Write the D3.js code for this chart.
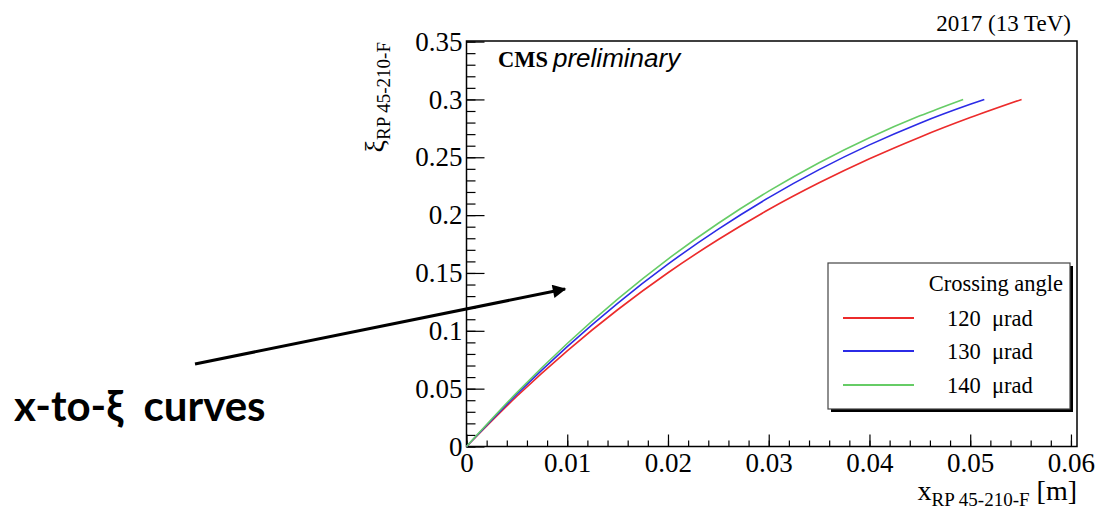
<!DOCTYPE html>
<html>
<head>
<meta charset="utf-8">
<script src="https://cdn.jsdelivr.net/npm/d3@7"></script>
<style>
  body { margin: 0; background: #fff; }
  svg { display: block; }
</style>
</head>
<body>
<div id="chart"></div>
<script>
// crossing angles and their curves (x in m, xi)
const angles = [120, 130, 140];
const colors = ["#ec2b2b", "#2b2be6", "#66cc66"];

const x120 = [0, 0.005, 0.01, 0.015, 0.02, 0.025, 0.03, 0.035, 0.04, 0.045, 0.05, 0.0551];
const xi120 = [0, 0.0434, 0.0827, 0.1182, 0.1502, 0.1789, 0.2048, 0.2279, 0.2487, 0.2674, 0.2843, 0.300];

const x130 = [0, 0.005, 0.01, 0.015, 0.02, 0.025, 0.03, 0.035, 0.04, 0.045, 0.05, 0.0514];
const xi130 = [0, 0.0452, 0.0864, 0.1238, 0.1576, 0.1879, 0.2151, 0.2393, 0.2607, 0.2795, 0.2958, 0.300];

const x140 = [0, 0.005, 0.01, 0.015, 0.02, 0.025, 0.03, 0.035, 0.04, 0.045, 0.0493];
const xi140 = [0, 0.0466, 0.0890, 0.1274, 0.1620, 0.1930, 0.2207, 0.2453, 0.2669, 0.2858, 0.300];

const xTicks = [0, 0.01, 0.02, 0.03, 0.04, 0.05, 0.06];
const xTickLabels = ["0", "0.01", "0.02", "0.03", "0.04", "0.05", "0.06"];
const yTicks = [0, 0.05, 0.1, 0.15, 0.2, 0.25, 0.3, 0.35];
const yTickLabels = ["0", "0.05", "0.1", "0.15", "0.2", "0.25", "0.3", "0.35"];

const series = [
    { angle: angles[0], color: colors[0], xs: x120, ys: xi120 },
    { angle: angles[1], color: colors[1], xs: x130, ys: xi130 },
    { angle: angles[2], color: colors[2], xs: x140, ys: xi140 }
];

const width = 1099;
const height = 513;
const serif = "'Liberation Serif', 'Times New Roman', serif";

const svg = d3.select('#chart')
    .append('svg')
    .attr('width', width)
    .attr('height', height);

// frame of the pad
const frame = { left: 466.5, right: 1077, top: 41, bottom: 446.5 };

const x = d3.scaleLinear()
    .domain([0, 0.0606])
    .range([frame.left, frame.right]);

const y = d3.scaleLinear()
    .domain([0, 0.3505])
    .range([frame.bottom, frame.top]);

// minor ticks first, inward like ROOT
const xMinor = d3.range(0, 31).map(i => i * 0.002);
const yMinor = d3.range(0, 36).map(i => i * 0.01);

const xMinorAxis = svg.append('g')
    .attr('transform', `translate(0, ${ frame.bottom })`)
    .call(d3.axisBottom(x).tickValues(xMinor).tickSize(-6).tickFormat(''));

const yMinorAxis = svg.append('g')
    .attr('transform', `translate(${ frame.left }, 0)`)
    .call(d3.axisLeft(y).tickValues(yMinor).tickSize(-9).tickFormat(''));

const xAxisGroup = svg.append('g')
    .attr('transform', `translate(0, ${ frame.bottom })`)
    .call(d3.axisBottom(x)
        .tickValues(xTicks)
        .tickSize(-12)
        .tickPadding(6)
        .tickFormat((d, i) => xTickLabels[i]));

const yAxisGroup = svg.append('g')
    .attr('transform', `translate(${ frame.left }, 0)`)
    .call(d3.axisLeft(y)
        .tickValues(yTicks)
        .tickSize(-18)
        .tickPadding(4)
        .tickFormat((d, i) => yTickLabels[i]));

[xMinorAxis, yMinorAxis, xAxisGroup, yAxisGroup].forEach(g => {
    g.select('path.domain').remove();
    g.selectAll('line').attr('stroke', '#000').attr('stroke-width', 1.2);
});

[xAxisGroup, yAxisGroup].forEach(g => {
    g.selectAll('text')
        .attr('fill', '#000')
        .style('font-family', serif)
        .style('font-size', '27px');
});

// frame box
svg.append('rect')
    .attr('x', frame.left)
    .attr('y', frame.top)
    .attr('width', frame.right - frame.left)
    .attr('height', frame.bottom - frame.top)
    .attr('fill', 'none')
    .attr('stroke', '#000')
    .attr('stroke-width', 1.5);

// curves
const line = d3.line()
    .x(d => x(d[0]))
    .y(d => y(d[1]))
    .curve(d3.curveMonotoneX);

svg.selectAll('path.curve')
    .data(series)
    .enter()
    .append('path')
    .attr('class', 'curve')
    .attr('d', s => line(s.xs.map((v, i) => [v, s.ys[i]])))
    .attr('fill', 'none')
    .attr('stroke', s => s.color)
    .attr('stroke-width', 1.6);

// titles
svg.append('text')
    .attr('x', 1071)
    .attr('y', 31)
    .attr('text-anchor', 'end')
    .style('font-family', serif)
    .style('font-size', '23px')
    .text('2017 (13 TeV)');

svg.append('text')
    .attr('x', 498)
    .attr('y', 67)
    .style('font-family', serif)
    .style('font-weight', 'bold')
    .style('font-size', '22.5px')
    .text('CMS');

svg.append('text')
    .attr('x', 553)
    .attr('y', 67)
    .style('font-family', "'Liberation Sans', Arial, sans-serif")
    .style('font-style', 'italic')
    .style('font-size', '26px')
    .text('preliminary');

// x axis title
const xTitle = svg.append('text')
    .attr('x', 1077)
    .attr('y', 500)
    .attr('text-anchor', 'end')
    .style('font-family', serif)
    .style('font-size', '28px');
xTitle.append('tspan').text('x');
xTitle.append('tspan').attr('dy', 6).style('font-size', '19px').text('RP 45-210-F');
xTitle.append('tspan').attr('dy', -6).text(' [m]');

// y axis title
const yTitle = svg.append('text')
    .attr('transform', 'translate(384, 42) rotate(-90)')
    .attr('text-anchor', 'end')
    .style('font-family', serif)
    .style('font-size', '28px');
yTitle.append('tspan').text('ξ');
yTitle.append('tspan').attr('dy', 6).style('font-size', '19px').text('RP 45-210-F');

// legend
const legend = { x: 828, y: 263, w: 242, h: 146 };

svg.append('rect')
    .attr('x', legend.x + 3)
    .attr('y', legend.y + 3)
    .attr('width', legend.w)
    .attr('height', legend.h)
    .attr('fill', '#000');

svg.append('rect')
    .attr('x', legend.x)
    .attr('y', legend.y)
    .attr('width', legend.w)
    .attr('height', legend.h)
    .attr('fill', '#fff')
    .attr('stroke', '#444')
    .attr('stroke-width', 1.2);

svg.append('text')
    .attr('x', 1063)
    .attr('y', 291)
    .attr('text-anchor', 'end')
    .style('font-family', serif)
    .style('font-size', '22.5px')
    .text('Crossing angle');

const legendRows = [318, 351, 385];
const items = svg.selectAll('g.item')
    .data(series)
    .enter()
    .append('g')
    .attr('class', 'item')
    .attr('transform', (d, i) => `translate(0, ${ legendRows[i] })`);

items.append('line')
    .attr('x1', 843)
    .attr('x2', 914)
    .attr('stroke', d => d.color)
    .attr('stroke-width', 2);

items.append('text')
    .attr('x', 947)
    .attr('y', 8)
    .style('font-family', serif)
    .style('font-size', '22.5px')
    .style('white-space', 'pre')
    .text(d => d.angle + '  μrad');

// annotation with arrow
const defs = svg.append('defs');
defs.append('marker')
    .attr('id', 'head')
    .attr('viewBox', '0 0 10 10')
    .attr('refX', 9)
    .attr('refY', 5)
    .attr('markerWidth', 6)
    .attr('markerHeight', 4.5)
    .attr('markerUnits', 'strokeWidth')
    .attr('orient', 'auto')
    .append('path')
    .attr('d', 'M0,0 L10,5 L0,10 Z')
    .attr('fill', '#000');

svg.append('line')
    .attr('x1', 195)
    .attr('y1', 364)
    .attr('x2', 565)
    .attr('y2', 289)
    .attr('stroke', '#000')
    .attr('stroke-width', 3)
    .attr('marker-end', 'url(#head)');

svg.append('text')
    .attr('x', 14)
    .attr('y', 421)
    .style('font-family', "Lato, 'Open Sans', sans-serif")
    .style('font-weight', 'bold')
    .style('font-size', '42px')
    .style('white-space', 'pre')
    .text('x-to-ξ  curves');
</script>
</body>
</html>
